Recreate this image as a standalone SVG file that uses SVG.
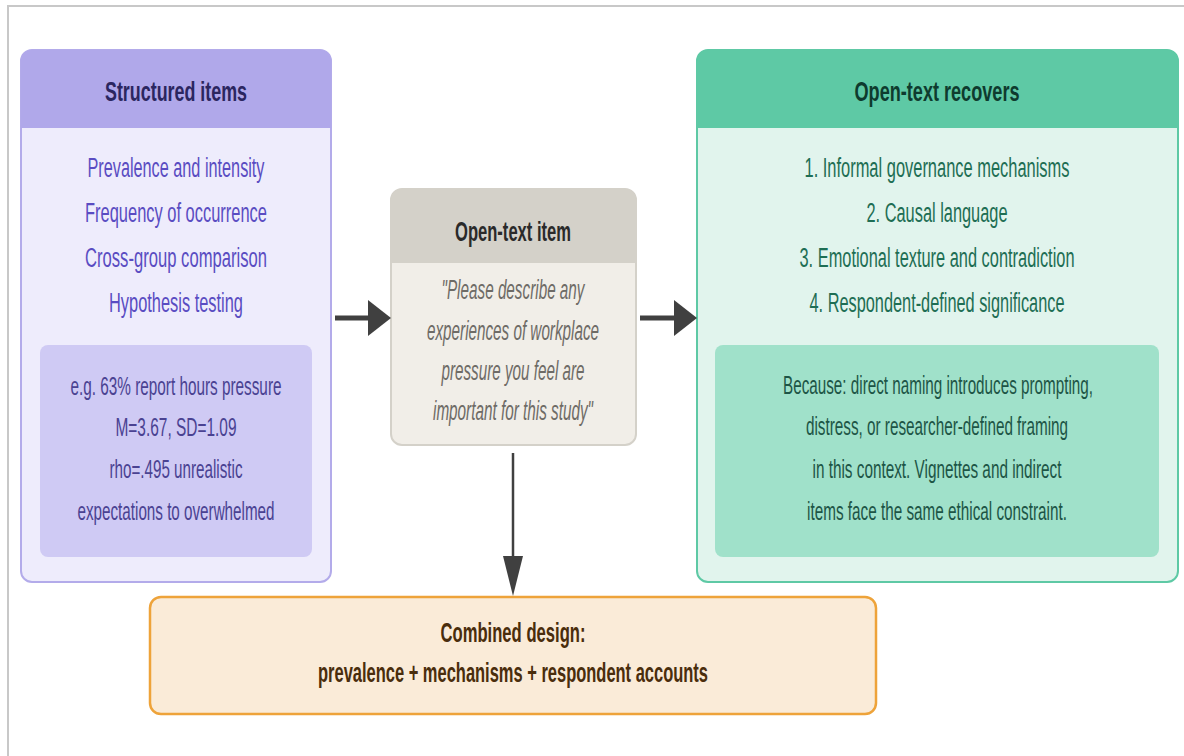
<svg xmlns="http://www.w3.org/2000/svg" width="1184" height="756" viewBox="0 0 1184 756">
<style>
text{font-family:"Liberation Sans",Arial,sans-serif;text-anchor:middle}
.ttl{font-size:28px;font-weight:bold}
.itm{font-size:27px}
.inr{font-size:25px}
.itl{font-size:27px;font-style:italic}
.bot{font-size:27px;font-weight:bold}
.arrow{fill:#404040}
.shaft{stroke:#404040}
</style>
<rect x="8" y="6" width="1200" height="800" fill="#ffffff" stroke="#c8c8c8" stroke-width="2"/>
<g id="structured">
<rect x="21" y="50" width="310" height="532" rx="11" fill="#eeecfc" stroke="#b3abea" stroke-width="2"/>
<path d="M21,128 V61 A11,11 0 0 1 32,50 H320 A11,11 0 0 1 331,61 V128 Z" fill="#b0a8ea"/>
<text class="ttl" x="176" y="101" fill="#2b2660" textLength="142" lengthAdjust="spacingAndGlyphs">Structured items</text>
<g fill="#5a4cc2">
<text class="itm" x="176" y="177" textLength="177" lengthAdjust="spacingAndGlyphs">Prevalence and intensity</text>
<text class="itm" x="176" y="222" textLength="182" lengthAdjust="spacingAndGlyphs">Frequency of occurrence</text>
<text class="itm" x="176" y="267" textLength="182" lengthAdjust="spacingAndGlyphs">Cross-group comparison</text>
<text class="itm" x="176" y="312" textLength="134" lengthAdjust="spacingAndGlyphs">Hypothesis testing</text>
</g>
<rect x="40" y="345" width="272" height="212" rx="8" fill="#cfcaf4"/>
<g fill="#4a4292">
<text class="inr" x="176" y="395" textLength="211" lengthAdjust="spacingAndGlyphs">e.g. 63% report hours pressure</text>
<text class="inr" x="176" y="436" textLength="121" lengthAdjust="spacingAndGlyphs">M=3.67, SD=1.09</text>
<text class="inr" x="176" y="478" textLength="133" lengthAdjust="spacingAndGlyphs">rho=.495 unrealistic</text>
<text class="inr" x="176" y="520" textLength="197" lengthAdjust="spacingAndGlyphs">expectations to overwhelmed</text>
</g>
</g>
<g id="opentext">
<rect x="391" y="189" width="245" height="256" rx="11" fill="#f1eee8" stroke="#d4d1c9" stroke-width="2"/>
<path d="M391,263 V200 A11,11 0 0 1 402,189 H625 A11,11 0 0 1 636,200 V263 Z" fill="#d4d1c9"/>
<text class="ttl" x="513" y="241" fill="#2a2a2a" textLength="116" lengthAdjust="spacingAndGlyphs" style="font-size:27px">Open-text item</text>
<g fill="#6e6b66">
<text class="itl" x="513" y="299" textLength="143" lengthAdjust="spacingAndGlyphs">"Please describe any</text>
<text class="itl" x="513" y="340" textLength="172" lengthAdjust="spacingAndGlyphs">experiences of workplace</text>
<text class="itl" x="513" y="380" textLength="143" lengthAdjust="spacingAndGlyphs">pressure you feel are</text>
<text class="itl" x="513" y="420" textLength="160" lengthAdjust="spacingAndGlyphs">important for this study"</text>
</g>
</g>
<g id="recovers">
<rect x="697" y="50" width="481" height="532" rx="11" fill="#e1f4ed" stroke="#5ec9a5" stroke-width="2"/>
<path d="M697,128 V61 A11,11 0 0 1 708,50 H1167 A11,11 0 0 1 1178,61 V128 Z" fill="#5ec9a5"/>
<text class="ttl" x="937" y="101" fill="#0e3b2e" textLength="165" lengthAdjust="spacingAndGlyphs">Open-text recovers</text>
<g fill="#1e6e54">
<text class="itm" x="937" y="177" textLength="265" lengthAdjust="spacingAndGlyphs">1. Informal governance mechanisms</text>
<text class="itm" x="937" y="222" textLength="141" lengthAdjust="spacingAndGlyphs">2. Causal language</text>
<text class="itm" x="937" y="267" textLength="275" lengthAdjust="spacingAndGlyphs">3. Emotional texture and contradiction</text>
<text class="itm" x="937" y="312" textLength="255" lengthAdjust="spacingAndGlyphs">4. Respondent-defined significance</text>
</g>
<rect x="715" y="345" width="444" height="212" rx="8" fill="#a0e1ca"/>
<g fill="#1d5546">
<text class="inr" x="938" y="394" textLength="310" lengthAdjust="spacingAndGlyphs">Because: direct naming introduces prompting,</text>
<text class="inr" x="937" y="435" textLength="262" lengthAdjust="spacingAndGlyphs">distress, or researcher-defined framing</text>
<text class="inr" x="937" y="478" textLength="249" lengthAdjust="spacingAndGlyphs">in this context. Vignettes and indirect</text>
<text class="inr" x="937" y="520" textLength="260" lengthAdjust="spacingAndGlyphs">items face the same ethical constraint.</text>
</g>
</g>
<g id="combined">
<rect x="150" y="597" width="726" height="117" rx="11" fill="#faebd8" stroke="#eea33a" stroke-width="2.5"/>
<g fill="#4a2d0c">
<text class="bot" x="513" y="642" textLength="145" lengthAdjust="spacingAndGlyphs">Combined design:</text>
<text class="bot" x="513" y="682" textLength="390" lengthAdjust="spacingAndGlyphs">prevalence + mechanisms + respondent accounts</text>
</g>
</g>
<g id="connectors">
<line class="shaft" x1="335" y1="318" x2="370" y2="318" stroke-width="5"/>
<polygon class="arrow" points="368,300 391,318 368,336"/>
<line class="shaft" x1="640" y1="318" x2="676" y2="318" stroke-width="5"/>
<polygon class="arrow" points="674,300 697,318 674,336"/>
<line class="shaft" x1="513" y1="453" x2="513" y2="558" stroke-width="2.5"/>
<polygon class="arrow" points="503,556 523,556 513,596"/>
</g>
</svg>
